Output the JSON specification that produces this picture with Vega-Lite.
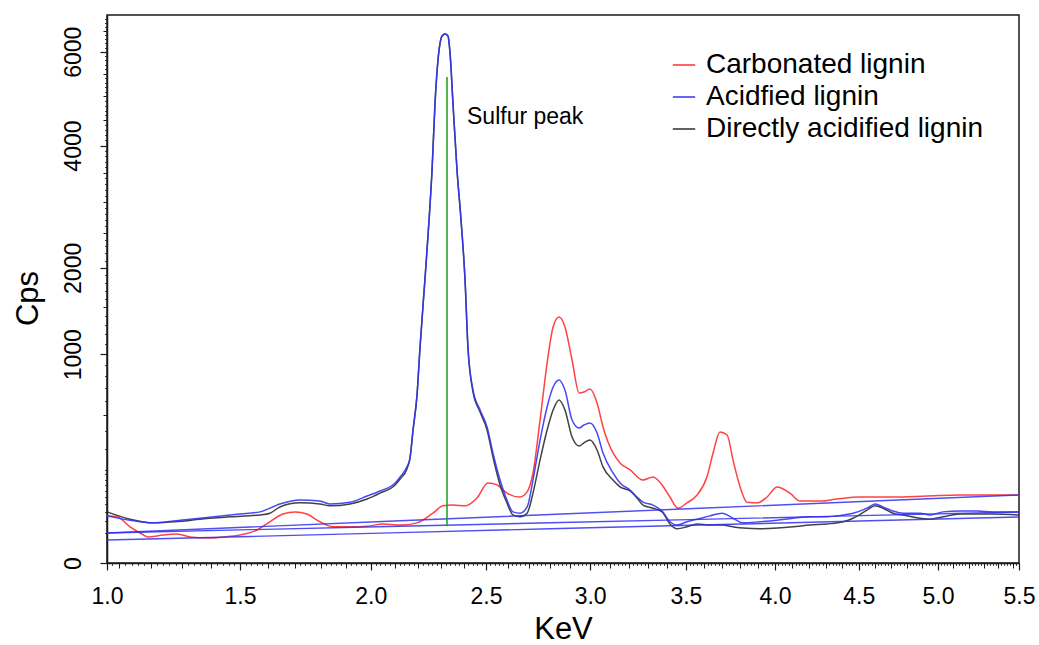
{
  "$schema": "https://vega.github.io/schema/vega-lite/v6.json",
  "width": 912,
  "height": 548,
  "autosize": {"type": "none"},
  "padding": {"left": 107, "top": 15, "right": 20, "bottom": 82},
  "background": "white",
  "config": {
    "font": "Liberation Sans",
    "view": {"stroke": "#1a1a1a", "strokeWidth": 1.5},
    "axis": {"domainColor": "#1a1a1a", "domainWidth": 1.5, "tickColor": "#1a1a1a", "grid": false, "labelColor": "#000000", "titleColor": "#000000", "labelFont": "Liberation Sans", "titleFont": "Liberation Sans", "titleFontWeight": "normal"},
    "legend": {"labelFont": "Liberation Sans"}
  },
  "datasets": {
    "spectra": [
      {"series": "Carbonated lignin", "kev": 1.065, "cps": 51},
      {"series": "Carbonated lignin", "kev": 1.095, "cps": 49},
      {"series": "Carbonated lignin", "kev": 1.135, "cps": 30},
      {"series": "Carbonated lignin", "kev": 1.166, "cps": 20.7},
      {"series": "Carbonated lignin", "kev": 1.191, "cps": 15.5},
      {"series": "Carbonated lignin", "kev": 1.239, "cps": 18},
      {"series": "Carbonated lignin", "kev": 1.285, "cps": 19.3},
      {"series": "Carbonated lignin", "kev": 1.328, "cps": 15.5},
      {"series": "Carbonated lignin", "kev": 1.385, "cps": 14.3},
      {"series": "Carbonated lignin", "kev": 1.44, "cps": 15.5},
      {"series": "Carbonated lignin", "kev": 1.5, "cps": 18},
      {"series": "Carbonated lignin", "kev": 1.561, "cps": 25},
      {"series": "Carbonated lignin", "kev": 1.608, "cps": 39},
      {"series": "Carbonated lignin", "kev": 1.656, "cps": 55},
      {"series": "Carbonated lignin", "kev": 1.702, "cps": 60},
      {"series": "Carbonated lignin", "kev": 1.747, "cps": 55},
      {"series": "Carbonated lignin", "kev": 1.797, "cps": 39},
      {"series": "Carbonated lignin", "kev": 1.848, "cps": 30},
      {"series": "Carbonated lignin", "kev": 1.916, "cps": 30},
      {"series": "Carbonated lignin", "kev": 1.985, "cps": 31},
      {"series": "Carbonated lignin", "kev": 2.05, "cps": 35},
      {"series": "Carbonated lignin", "kev": 2.122, "cps": 33},
      {"series": "Carbonated lignin", "kev": 2.194, "cps": 37},
      {"series": "Carbonated lignin", "kev": 2.263, "cps": 57},
      {"series": "Carbonated lignin", "kev": 2.307, "cps": 75},
      {"series": "Carbonated lignin", "kev": 2.351, "cps": 77},
      {"series": "Carbonated lignin", "kev": 2.405, "cps": 75},
      {"series": "Carbonated lignin", "kev": 2.459, "cps": 97},
      {"series": "Carbonated lignin", "kev": 2.509, "cps": 147},
      {"series": "Carbonated lignin", "kev": 2.551, "cps": 140},
      {"series": "Carbonated lignin", "kev": 2.597, "cps": 112},
      {"series": "Carbonated lignin", "kev": 2.658, "cps": 100},
      {"series": "Carbonated lignin", "kev": 2.692, "cps": 116},
      {"series": "Carbonated lignin", "kev": 2.72, "cps": 186},
      {"series": "Carbonated lignin", "kev": 2.754, "cps": 469},
      {"series": "Carbonated lignin", "kev": 2.788, "cps": 918},
      {"series": "Carbonated lignin", "kev": 2.817, "cps": 1279},
      {"series": "Carbonated lignin", "kev": 2.846, "cps": 1389},
      {"series": "Carbonated lignin", "kev": 2.875, "cps": 1279},
      {"series": "Carbonated lignin", "kev": 2.91, "cps": 946},
      {"series": "Carbonated lignin", "kev": 2.945, "cps": 664},
      {"series": "Carbonated lignin", "kev": 2.969, "cps": 671},
      {"series": "Carbonated lignin", "kev": 2.999, "cps": 695},
      {"series": "Carbonated lignin", "kev": 3.035, "cps": 588},
      {"series": "Carbonated lignin", "kev": 3.065, "cps": 425},
      {"series": "Carbonated lignin", "kev": 3.116, "cps": 278},
      {"series": "Carbonated lignin", "kev": 3.152, "cps": 230},
      {"series": "Carbonated lignin", "kev": 3.204, "cps": 199},
      {"series": "Carbonated lignin", "kev": 3.271, "cps": 158},
      {"series": "Carbonated lignin", "kev": 3.324, "cps": 170},
      {"series": "Carbonated lignin", "kev": 3.372, "cps": 140},
      {"series": "Carbonated lignin", "kev": 3.414, "cps": 100},
      {"series": "Carbonated lignin", "kev": 3.457, "cps": 69},
      {"series": "Carbonated lignin", "kev": 3.506, "cps": 83},
      {"series": "Carbonated lignin", "kev": 3.561, "cps": 106},
      {"series": "Carbonated lignin", "kev": 3.615, "cps": 170},
      {"series": "Carbonated lignin", "kev": 3.649, "cps": 278},
      {"series": "Carbonated lignin", "kev": 3.687, "cps": 394},
      {"series": "Carbonated lignin", "kev": 3.727, "cps": 376},
      {"series": "Carbonated lignin", "kev": 3.76, "cps": 244},
      {"series": "Carbonated lignin", "kev": 3.8, "cps": 133},
      {"series": "Carbonated lignin", "kev": 3.839, "cps": 85},
      {"series": "Carbonated lignin", "kev": 3.896, "cps": 83},
      {"series": "Carbonated lignin", "kev": 3.954, "cps": 100},
      {"series": "Carbonated lignin", "kev": 4.012, "cps": 133},
      {"series": "Carbonated lignin", "kev": 4.087, "cps": 112},
      {"series": "Carbonated lignin", "kev": 4.146, "cps": 88},
      {"series": "Carbonated lignin", "kev": 4.265, "cps": 88},
      {"series": "Carbonated lignin", "kev": 4.367, "cps": 94},
      {"series": "Carbonated lignin", "kev": 4.508, "cps": 100},
      {"series": "Carbonated lignin", "kev": 4.713, "cps": 100},
      {"series": "Carbonated lignin", "kev": 4.93, "cps": 103},
      {"series": "Carbonated lignin", "kev": 5.144, "cps": 106},
      {"series": "Carbonated lignin", "kev": 5.363, "cps": 106},
      {"series": "Carbonated lignin", "kev": 5.539, "cps": 106},

      {"series": "Directly acidified lignin", "kev": 1.065, "cps": 60},
      {"series": "Directly acidified lignin", "kev": 1.135, "cps": 44},
      {"series": "Directly acidified lignin", "kev": 1.207, "cps": 37},
      {"series": "Directly acidified lignin", "kev": 1.295, "cps": 40},
      {"series": "Directly acidified lignin", "kev": 1.361, "cps": 44},
      {"series": "Directly acidified lignin", "kev": 1.465, "cps": 49},
      {"series": "Directly acidified lignin", "kev": 1.572, "cps": 53},
      {"series": "Directly acidified lignin", "kev": 1.608, "cps": 57},
      {"series": "Directly acidified lignin", "kev": 1.645, "cps": 72},
      {"series": "Directly acidified lignin", "kev": 1.72, "cps": 83},
      {"series": "Directly acidified lignin", "kev": 1.797, "cps": 80},
      {"series": "Directly acidified lignin", "kev": 1.836, "cps": 75},
      {"series": "Directly acidified lignin", "kev": 1.916, "cps": 80},
      {"series": "Directly acidified lignin", "kev": 1.985, "cps": 94},
      {"series": "Directly acidified lignin", "kev": 2.038, "cps": 112},
      {"series": "Directly acidified lignin", "kev": 2.101, "cps": 140},
      {"series": "Directly acidified lignin", "kev": 2.122, "cps": 162},
      {"series": "Directly acidified lignin", "kev": 2.151, "cps": 203},
      {"series": "Directly acidified lignin", "kev": 2.164, "cps": 253},
      {"series": "Directly acidified lignin", "kev": 2.177, "cps": 406},
      {"series": "Directly acidified lignin", "kev": 2.194, "cps": 648},
      {"series": "Directly acidified lignin", "kev": 2.207, "cps": 1071},
      {"series": "Directly acidified lignin", "kev": 2.228, "cps": 1839},
      {"series": "Directly acidified lignin", "kev": 2.246, "cps": 2701},
      {"series": "Directly acidified lignin", "kev": 2.259, "cps": 3546},
      {"series": "Directly acidified lignin", "kev": 2.272, "cps": 4858},
      {"series": "Directly acidified lignin", "kev": 2.285, "cps": 5808},
      {"series": "Directly acidified lignin", "kev": 2.303, "cps": 6376},
      {"series": "Directly acidified lignin", "kev": 2.316, "cps": 6424},
      {"series": "Directly acidified lignin", "kev": 2.329, "cps": 6376},
      {"series": "Directly acidified lignin", "kev": 2.338, "cps": 5971},
      {"series": "Directly acidified lignin", "kev": 2.351, "cps": 4858},
      {"series": "Directly acidified lignin", "kev": 2.369, "cps": 3546},
      {"series": "Directly acidified lignin", "kev": 2.387, "cps": 2701},
      {"series": "Directly acidified lignin", "kev": 2.405, "cps": 1839},
      {"series": "Directly acidified lignin", "kev": 2.418, "cps": 1071},
      {"series": "Directly acidified lignin", "kev": 2.441, "cps": 671},
      {"series": "Directly acidified lignin", "kev": 2.473, "cps": 523},
      {"series": "Directly acidified lignin", "kev": 2.505, "cps": 406},
      {"series": "Directly acidified lignin", "kev": 2.532, "cps": 258},
      {"series": "Directly acidified lignin", "kev": 2.565, "cps": 140},
      {"series": "Directly acidified lignin", "kev": 2.597, "cps": 83},
      {"series": "Directly acidified lignin", "kev": 2.625, "cps": 53},
      {"series": "Directly acidified lignin", "kev": 2.658, "cps": 49},
      {"series": "Directly acidified lignin", "kev": 2.692, "cps": 57},
      {"series": "Directly acidified lignin", "kev": 2.72, "cps": 112},
      {"series": "Directly acidified lignin", "kev": 2.754, "cps": 244},
      {"series": "Directly acidified lignin", "kev": 2.788, "cps": 406},
      {"series": "Directly acidified lignin", "kev": 2.817, "cps": 537},
      {"series": "Directly acidified lignin", "kev": 2.846, "cps": 610},
      {"series": "Directly acidified lignin", "kev": 2.875, "cps": 537},
      {"series": "Directly acidified lignin", "kev": 2.91, "cps": 364},
      {"series": "Directly acidified lignin", "kev": 2.945, "cps": 314},
      {"series": "Directly acidified lignin", "kev": 2.969, "cps": 331},
      {"series": "Directly acidified lignin", "kev": 2.999, "cps": 347},
      {"series": "Directly acidified lignin", "kev": 3.035, "cps": 293},
      {"series": "Directly acidified lignin", "kev": 3.065, "cps": 212},
      {"series": "Directly acidified lignin", "kev": 3.116, "cps": 158},
      {"series": "Directly acidified lignin", "kev": 3.152, "cps": 133},
      {"series": "Directly acidified lignin", "kev": 3.204, "cps": 119},
      {"series": "Directly acidified lignin", "kev": 3.24, "cps": 97},
      {"series": "Directly acidified lignin", "kev": 3.271, "cps": 77},
      {"series": "Directly acidified lignin", "kev": 3.324, "cps": 69},
      {"series": "Directly acidified lignin", "kev": 3.372, "cps": 60},
      {"series": "Directly acidified lignin", "kev": 3.414, "cps": 35},
      {"series": "Directly acidified lignin", "kev": 3.452, "cps": 27},
      {"series": "Directly acidified lignin", "kev": 3.506, "cps": 30},
      {"series": "Directly acidified lignin", "kev": 3.561, "cps": 35},
      {"series": "Directly acidified lignin", "kev": 3.632, "cps": 33},
      {"series": "Directly acidified lignin", "kev": 3.699, "cps": 33},
      {"series": "Directly acidified lignin", "kev": 3.76, "cps": 30},
      {"series": "Directly acidified lignin", "kev": 3.817, "cps": 28},
      {"series": "Directly acidified lignin", "kev": 3.913, "cps": 27},
      {"series": "Directly acidified lignin", "kev": 4.012, "cps": 28},
      {"series": "Directly acidified lignin", "kev": 4.105, "cps": 30},
      {"series": "Directly acidified lignin", "kev": 4.205, "cps": 33},
      {"series": "Directly acidified lignin", "kev": 4.307, "cps": 35},
      {"series": "Directly acidified lignin", "kev": 4.404, "cps": 39},
      {"series": "Directly acidified lignin", "kev": 4.465, "cps": 46},
      {"series": "Directly acidified lignin", "kev": 4.551, "cps": 64},
      {"series": "Directly acidified lignin", "kev": 4.601, "cps": 75},
      {"series": "Directly acidified lignin", "kev": 4.65, "cps": 69},
      {"series": "Directly acidified lignin", "kev": 4.713, "cps": 57},
      {"series": "Directly acidified lignin", "kev": 4.776, "cps": 53},
      {"series": "Directly acidified lignin", "kev": 4.885, "cps": 46},
      {"series": "Directly acidified lignin", "kev": 4.949, "cps": 44},
      {"series": "Directly acidified lignin", "kev": 5.033, "cps": 49},
      {"series": "Directly acidified lignin", "kev": 5.144, "cps": 55},
      {"series": "Directly acidified lignin", "kev": 5.257, "cps": 55},
      {"series": "Directly acidified lignin", "kev": 5.363, "cps": 55},
      {"series": "Directly acidified lignin", "kev": 5.539, "cps": 53},

      {"series": "Acidfied lignin", "kev": 1.065, "cps": 51},
      {"series": "Acidfied lignin", "kev": 1.135, "cps": 42},
      {"series": "Acidfied lignin", "kev": 1.207, "cps": 37},
      {"series": "Acidfied lignin", "kev": 1.295, "cps": 42},
      {"series": "Acidfied lignin", "kev": 1.361, "cps": 46},
      {"series": "Acidfied lignin", "kev": 1.465, "cps": 53},
      {"series": "Acidfied lignin", "kev": 1.572, "cps": 60},
      {"series": "Acidfied lignin", "kev": 1.645, "cps": 80},
      {"series": "Acidfied lignin", "kev": 1.72, "cps": 91},
      {"series": "Acidfied lignin", "kev": 1.797, "cps": 88},
      {"series": "Acidfied lignin", "kev": 1.836, "cps": 80},
      {"series": "Acidfied lignin", "kev": 1.916, "cps": 85},
      {"series": "Acidfied lignin", "kev": 1.985, "cps": 103},
      {"series": "Acidfied lignin", "kev": 2.038, "cps": 119},
      {"series": "Acidfied lignin", "kev": 2.101, "cps": 147},
      {"series": "Acidfied lignin", "kev": 2.122, "cps": 170},
      {"series": "Acidfied lignin", "kev": 2.151, "cps": 212},
      {"series": "Acidfied lignin", "kev": 2.164, "cps": 253},
      {"series": "Acidfied lignin", "kev": 2.177, "cps": 406},
      {"series": "Acidfied lignin", "kev": 2.194, "cps": 648},
      {"series": "Acidfied lignin", "kev": 2.207, "cps": 1071},
      {"series": "Acidfied lignin", "kev": 2.228, "cps": 1839},
      {"series": "Acidfied lignin", "kev": 2.246, "cps": 2701},
      {"series": "Acidfied lignin", "kev": 2.259, "cps": 3546},
      {"series": "Acidfied lignin", "kev": 2.272, "cps": 4858},
      {"series": "Acidfied lignin", "kev": 2.285, "cps": 5808},
      {"series": "Acidfied lignin", "kev": 2.303, "cps": 6376},
      {"series": "Acidfied lignin", "kev": 2.316, "cps": 6424},
      {"series": "Acidfied lignin", "kev": 2.329, "cps": 6376},
      {"series": "Acidfied lignin", "kev": 2.338, "cps": 5971},
      {"series": "Acidfied lignin", "kev": 2.351, "cps": 4858},
      {"series": "Acidfied lignin", "kev": 2.369, "cps": 3546},
      {"series": "Acidfied lignin", "kev": 2.387, "cps": 2701},
      {"series": "Acidfied lignin", "kev": 2.405, "cps": 1839},
      {"series": "Acidfied lignin", "kev": 2.418, "cps": 1071},
      {"series": "Acidfied lignin", "kev": 2.441, "cps": 687},
      {"series": "Acidfied lignin", "kev": 2.473, "cps": 537},
      {"series": "Acidfied lignin", "kev": 2.505, "cps": 425},
      {"series": "Acidfied lignin", "kev": 2.532, "cps": 278},
      {"series": "Acidfied lignin", "kev": 2.565, "cps": 158},
      {"series": "Acidfied lignin", "kev": 2.597, "cps": 91},
      {"series": "Acidfied lignin", "kev": 2.625, "cps": 60},
      {"series": "Acidfied lignin", "kev": 2.658, "cps": 57},
      {"series": "Acidfied lignin", "kev": 2.692, "cps": 72},
      {"series": "Acidfied lignin", "kev": 2.72, "cps": 158},
      {"series": "Acidfied lignin", "kev": 2.754, "cps": 347},
      {"series": "Acidfied lignin", "kev": 2.788, "cps": 559},
      {"series": "Acidfied lignin", "kev": 2.817, "cps": 711},
      {"series": "Acidfied lignin", "kev": 2.846, "cps": 769},
      {"series": "Acidfied lignin", "kev": 2.875, "cps": 687},
      {"series": "Acidfied lignin", "kev": 2.91, "cps": 469},
      {"series": "Acidfied lignin", "kev": 2.945, "cps": 418},
      {"series": "Acidfied lignin", "kev": 2.969, "cps": 437},
      {"series": "Acidfied lignin", "kev": 2.999, "cps": 450},
      {"series": "Acidfied lignin", "kev": 3.035, "cps": 388},
      {"series": "Acidfied lignin", "kev": 3.065, "cps": 278},
      {"series": "Acidfied lignin", "kev": 3.116, "cps": 186},
      {"series": "Acidfied lignin", "kev": 3.152, "cps": 147},
      {"series": "Acidfied lignin", "kev": 3.204, "cps": 122},
      {"series": "Acidfied lignin", "kev": 3.24, "cps": 100},
      {"series": "Acidfied lignin", "kev": 3.271, "cps": 85},
      {"series": "Acidfied lignin", "kev": 3.324, "cps": 77},
      {"series": "Acidfied lignin", "kev": 3.372, "cps": 62},
      {"series": "Acidfied lignin", "kev": 3.414, "cps": 39},
      {"series": "Acidfied lignin", "kev": 3.452, "cps": 33},
      {"series": "Acidfied lignin", "kev": 3.506, "cps": 39},
      {"series": "Acidfied lignin", "kev": 3.561, "cps": 44},
      {"series": "Acidfied lignin", "kev": 3.632, "cps": 51},
      {"series": "Acidfied lignin", "kev": 3.699, "cps": 57},
      {"series": "Acidfied lignin", "kev": 3.76, "cps": 46},
      {"series": "Acidfied lignin", "kev": 3.817, "cps": 37},
      {"series": "Acidfied lignin", "kev": 3.913, "cps": 39},
      {"series": "Acidfied lignin", "kev": 4.012, "cps": 42},
      {"series": "Acidfied lignin", "kev": 4.105, "cps": 46},
      {"series": "Acidfied lignin", "kev": 4.205, "cps": 49},
      {"series": "Acidfied lignin", "kev": 4.307, "cps": 49},
      {"series": "Acidfied lignin", "kev": 4.404, "cps": 53},
      {"series": "Acidfied lignin", "kev": 4.465, "cps": 57},
      {"series": "Acidfied lignin", "kev": 4.551, "cps": 69},
      {"series": "Acidfied lignin", "kev": 4.601, "cps": 80},
      {"series": "Acidfied lignin", "kev": 4.65, "cps": 72},
      {"series": "Acidfied lignin", "kev": 4.713, "cps": 62},
      {"series": "Acidfied lignin", "kev": 4.776, "cps": 57},
      {"series": "Acidfied lignin", "kev": 4.885, "cps": 57},
      {"series": "Acidfied lignin", "kev": 4.949, "cps": 53},
      {"series": "Acidfied lignin", "kev": 5.033, "cps": 60},
      {"series": "Acidfied lignin", "kev": 5.144, "cps": 62},
      {"series": "Acidfied lignin", "kev": 5.257, "cps": 62},
      {"series": "Acidfied lignin", "kev": 5.363, "cps": 60},
      {"series": "Acidfied lignin", "kev": 5.539, "cps": 60}
    ],
    "baselines": [
      {"base": "B1", "kev": 1.065, "cps": 20.7},
      {"base": "B1", "kev": 1.5356, "cps": 29.75},
      {"base": "B1", "kev": 2.1216, "cps": 40.9},
      {"base": "B1", "kev": 2.802, "cps": 54.0},
      {"base": "B1", "kev": 3.577, "cps": 68.7},
      {"base": "B1", "kev": 4.4464, "cps": 85.4},
      {"base": "B1", "kev": 5.539, "cps": 106.1},
      {"base": "B2", "kev": 1.065, "cps": 20.7},
      {"base": "B2", "kev": 1.5356, "cps": 25.5},
      {"base": "B2", "kev": 2.1216, "cps": 31.0},
      {"base": "B2", "kev": 2.802, "cps": 37.1},
      {"base": "B2", "kev": 3.577, "cps": 43.7},
      {"base": "B2", "kev": 4.4464, "cps": 50.9},
      {"base": "B2", "kev": 5.539, "cps": 59.7},
      {"base": "B3", "kev": 1.065, "cps": 12.1},
      {"base": "B3", "kev": 1.5356, "cps": 16.2},
      {"base": "B3", "kev": 2.1216, "cps": 21.2},
      {"base": "B3", "kev": 2.802, "cps": 26.9},
      {"base": "B3", "kev": 3.577, "cps": 33.1},
      {"base": "B3", "kev": 4.4464, "cps": 39.9},
      {"base": "B3", "kev": 5.539, "cps": 48.6}
    ],
    "marker": [
      {"kev": 2.3246, "cps": 31, "cps2": 5422}
    ],
    "note": [
      {"kev": 2.4138, "cps": 4567, "label": "Sulfur peak"}
    ]
  },
  "layer": [
    {
      "data": {"name": "spectra"},
      "mark": {"type": "line", "strokeWidth": 1.5, "interpolate": "monotone", "opacity": 0.9},
      "encoding": {
        "x": {
          "field": "kev", "type": "quantitative",
          "scale": {"type": "sqrt", "domain": [1.065, 5.539], "nice": false, "zero": false},
          "axis": {
            "orient": "bottom", "title": "KeV",
            "values": [1.065, 1.5, 2, 2.5, 3, 3.5, 4, 4.5, 5, 5.539],
            "labelExpr": "datum.value < 1.2 ? '1.0' : (datum.value > 5.52 ? '5.5' : format(datum.value, '.1f'))",
            "labelFontSize": 23, "labelPadding": 15, "tickSize": 7, "tickWidth": 1.2,
            "labelOverlap": false, "labelFlush": false,
            "titleFontSize": 31, "titleY": 66, "titleBaseline": "middle"
          }
        },
        "y": {
          "field": "cps", "type": "quantitative",
          "scale": {"type": "sqrt", "domain": [0, 6894], "nice": false},
          "axis": {
            "orient": "left", "title": "Cps",
            "values": [0, 1000, 2000, 4000, 6000], "format": "d",
            "labelAngle": -90, "labelAlign": "center", "labelBaseline": "bottom",
            "labelFontSize": 23, "labelPadding": 15, "tickSize": 7, "tickWidth": 1.2,
            "labelOverlap": false,
            "titleFontSize": 31, "titleAngle": -90, "titleX": -79, "titleY": 283,
            "titleAlign": "center", "titleBaseline": "middle"
          }
        },
        "color": {
          "field": "series", "type": "nominal",
          "scale": {"domain": ["Carbonated lignin", "Acidfied lignin", "Directly acidified lignin"], "range": ["#ff2e2e", "#3434f5", "#2e2e2e"]},
          "legend": {
            "title": null, "orient": "none", "legendX": 563, "legendY": 36,
            "symbolType": "stroke", "symbolSize": 500, "symbolStrokeWidth": 2, "symbolOpacity": 0.75,
            "labelFontSize": 28, "labelOffset": 8, "rowPadding": 4, "padding": 0, "labelLimit": 400, "labelColor": "#000000"
          }
        }
      }
    },
    {
      "data": {"name": "baselines"},
      "mark": {"type": "line", "strokeWidth": 1.4, "color": "#2f2ff0", "opacity": 0.85},
      "encoding": {
        "x": {
          "field": "kev", "type": "quantitative",
          "axis": {
            "orient": "bottom", "title": null, "labels": false, "domain": false, "tickSize": 5, "tickWidth": 1,
            "values": [1.1,1.2,1.3,1.4,1.5,1.6,1.7,1.8,1.9,2,2.1,2.2,2.3,2.4,2.5,2.6,2.7,2.8,2.9,3,3.1,3.2,3.3,3.4,3.5,3.6,3.7,3.8,3.9,4,4.1,4.2,4.3,4.4,4.5,4.6,4.7,4.8,4.9,5,5.1,5.2,5.3,5.4,5.5]
          }
        },
        "y": {
          "field": "cps", "type": "quantitative",
          "axis": {
            "orient": "left", "title": null, "labels": false, "domain": false, "tickSize": 4, "tickWidth": 1,
            "values": [500, 1500, 2500, 3000, 3500, 4500, 5000, 5500, 6500]
          }
        },
        "detail": {"field": "base", "type": "nominal"}
      }
    },
    {
      "data": {"name": "marker"},
      "mark": {"type": "rule", "color": "#1a9e1a", "strokeWidth": 1.5},
      "encoding": {
        "x": {
          "field": "kev", "type": "quantitative",
          "axis": {
            "orient": "bottom", "title": null, "labels": false, "domain": false, "tickSize": 2.5, "tickWidth": 0.8,
            "values": [1.08,1.12,1.14,1.16,1.18,1.22,1.24,1.26,1.28,1.32,1.34,1.36,1.38,1.42,1.44,1.46,1.48,1.52,1.54,1.56,1.58,1.62,1.64,1.66,1.68,1.72,1.74,1.76,1.78,1.82,1.84,1.86,1.88,1.92,1.94,1.96,1.98,2.02,2.04,2.06,2.08,2.12,2.14,2.16,2.18,2.22,2.24,2.26,2.28,2.32,2.34,2.36,2.38,2.42,2.44,2.46,2.48,2.52,2.54,2.56,2.58,2.62,2.64,2.66,2.68,2.72,2.74,2.76,2.78,2.82,2.84,2.86,2.88,2.92,2.94,2.96,2.98,3.02,3.04,3.06,3.08,3.12,3.14,3.16,3.18,3.22,3.24,3.26,3.28,3.32,3.34,3.36,3.38,3.42,3.44,3.46,3.48,3.52,3.54,3.56,3.58,3.62,3.64,3.66,3.68,3.72,3.74,3.76,3.78,3.82,3.84,3.86,3.88,3.92,3.94,3.96,3.98,4.02,4.04,4.06,4.08,4.12,4.14,4.16,4.18,4.22,4.24,4.26,4.28,4.32,4.34,4.36,4.38,4.42,4.44,4.46,4.48,4.52,4.54,4.56,4.58,4.62,4.64,4.66,4.68,4.72,4.74,4.76,4.78,4.82,4.84,4.86,4.88,4.92,4.94,4.96,4.98,5.02,5.04,5.06,5.08,5.12,5.14,5.16,5.18,5.22,5.24,5.26,5.28,5.32,5.34,5.36,5.38,5.42,5.44,5.46,5.48,5.52]
          }
        },
        "y": {
          "field": "cps", "type": "quantitative",
          "axis": {
            "orient": "left", "title": null, "labels": false, "domain": false, "tickSize": 2.5, "tickWidth": 0.8,
            "values": [20,40,60,80,100,120,140,160,180,200,300,400,500,600,700,800,900,1100,1200,1300,1400,1500,1600,1700,1800,1900,2100,2200,2300,2400,2600,2700,2800,2900,3100,3200,3300,3400,3600,3700,3800,3900,4100,4200,4300,4400,4600,4700,4800,4900,5100,5200,5300,5400,5600,5700,5800,5900,6100,6200,6300,6400,6500,6600,6700,6800]
          }
        },
        "y2": {"field": "cps2"}
      }
    },
    {
      "data": {"name": "note"},
      "mark": {"type": "text", "align": "left", "baseline": "middle", "fontSize": 23, "font": "Liberation Sans", "color": "#000000"},
      "encoding": {
        "x": {"field": "kev", "type": "quantitative", "axis": null},
        "y": {"field": "cps", "type": "quantitative", "axis": null},
        "text": {"field": "label"}
      }
    }
  ],
  "resolve": {"axis": {"x": "independent", "y": "independent"}}
}
